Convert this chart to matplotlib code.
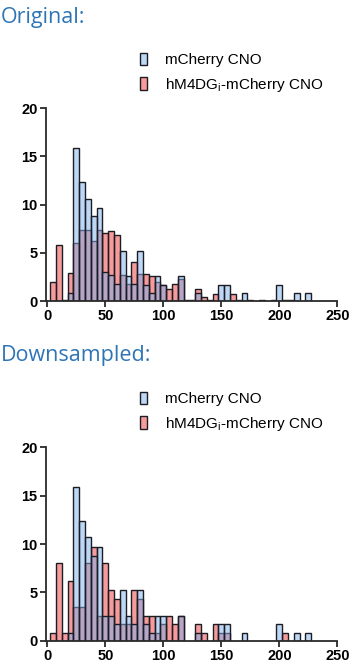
"""
plot.py
-------
Overlaid histograms (mCherry CNO vs hM4DGi-mCherry CNO), original and
downsampled, stacked in one tall figure.
"""

import matplotlib
matplotlib.use("Agg")
import matplotlib.pyplot as plt
from matplotlib.patches import Patch
import numpy as np

plt.rcParams["font.family"] = ["Liberation Sans", "DejaVu Sans"]
plt.rcParams["mathtext.default"] = "regular"

# bin centres (width 5)
bin_centers = np.arange(5, 230, 5)

# --- Original ---
orig_mcherry = [0, 0, 0, 0.8, 15.9, 12.3, 10.6, 8.8, 9.6, 3.0,
                2.65, 1.8, 5.2, 2.6, 1.8, 5.2, 1.7, 0.8, 2.6, 1.7,
                0, 0, 2.6, 0, 0, 0.8, 0, 0, 0, 1.7,
                1.7, 0, 0, 0.85, 0, 0, 0, 0, 0, 1.7,
                0, 0, 0.85, 0, 0.85]
orig_hm4d = [2.0, 5.8, 0.15, 2.85, 6.0, 7.4, 7.4, 6.2, 7.4, 7.0,
             7.3, 6.8, 2.65, 1.8, 4.0, 2.8, 2.8, 2.55, 2.0, 1.7,
             1.2, 1.8, 2.3, 0.15, 0.15, 1.2, 0.4, 0.15, 0.7, 0,
             0, 0.7, 0.15, 0, 0.15, 0, 0.15, 0, 0.15, 0,
             0.15, 0.15, 0, 0, 0]

# --- Downsampled ---
down_mcherry = [0, 0, 0, 0.83, 15.9, 12.4, 10.7, 8.8, 9.7, 2.6,
                2.55, 1.7, 5.2, 2.55, 1.7, 5.2, 1.7, 0.83, 2.55, 2.55,
                0, 0, 2.55, 0, 0, 0.83, 0, 0, 0, 1.7,
                1.7, 0, 0, 0.83, 0, 0, 0, 0, 0, 1.7,
                0, 0, 0.83, 0, 0.83]
down_hm4d = [0.83, 8.0, 0.83, 6.2, 3.45, 3.45, 8.0, 9.7, 2.55, 8.0,
             5.2, 4.3, 1.7, 1.7, 5.2, 4.3, 2.55, 2.55, 0.83, 1.7,
             2.55, 1.7, 2.55, 0, 0, 1.7, 0.83, 0, 1.7, 0.83,
             0.83, 0, 0, 0, 0, 0, 0, 0, 0, 0,
             0.83, 0, 0, 0, 0]

group_labels = ["mCherry CNO", "hM4DG$_{i}$-mCherry CNO"]
x_ticks = [0, 50, 100, 150, 200, 250]
y_ticks = [0, 5, 10, 15, 20]

BLUE = (0.49, 0.69, 0.92, 0.5)
RED = (0.93, 0.22, 0.22, 0.5)
EDGE = "#1c1c24"
HEAD = "#2e75b6"

W, H = 353, 672
fig = plt.figure(figsize=(W / 100, H / 100), dpi=100)


def px_axes(left, top, right, bottom):
    return fig.add_axes([left / W, 1 - bottom / H, (right - left) / W, (bottom - top) / H])


def draw_panel(ax, mcherry, hm4d):
    for vals, col in ((hm4d, RED), (mcherry, BLUE)):
        vals = np.asarray(vals, dtype=float)
        keep = vals > 0
        ax.bar(bin_centers[keep], vals[keep], width=5, color=col,
               edgecolor=EDGE, linewidth=1.0)
    ax.set_xlim(-1.2, 250)
    ax.set_ylim(0, 20)
    ax.set_xticks(x_ticks)
    ax.set_yticks(y_ticks)
    for s in ("top", "right"):
        ax.spines[s].set_visible(False)
    for s in ("left", "bottom"):
        ax.spines[s].set_linewidth(1.3)
        ax.spines[s].set_color("#2a2a2a")
    ax.tick_params(direction="out", length=4, width=1.3, color="#2a2a2a",
                   labelsize=10.5, pad=2)
    for lbl in ax.get_xticklabels() + ax.get_yticklabels():
        lbl.set_fontweight("bold")


def draw_legend(y_top):
    handles = [Patch(facecolor=BLUE, edgecolor=EDGE, linewidth=1.0),
               Patch(facecolor=RED, edgecolor=EDGE, linewidth=1.0)]
    fig.legend(handles, group_labels, loc="upper left",
               bbox_to_anchor=(132 / W, 1 - y_top / H), frameon=False,
               fontsize=11, handlelength=0.45, handleheight=0.9,
               handletextpad=1.2, labelspacing=0.55, borderpad=0)


ax1 = px_axes(46, 108, 337.3, 301)
draw_panel(ax1, orig_mcherry, orig_hm4d)
draw_legend(45)
fig.text(1 / W, 1 - 17 / H, "Original:", color=HEAD, fontsize=15.5,
         family=["Open Sans", "DejaVu Sans"], va="center", ha="left")

ax2 = px_axes(46, 447.3, 337.3, 640.7)
draw_panel(ax2, down_mcherry, down_hm4d)
draw_legend(384)
fig.text(1 / W, 1 - 355 / H, "Downsampled:", color=HEAD, fontsize=15.5,
         family=["Open Sans", "DejaVu Sans"], va="center", ha="left")

fig.savefig("out.png", dpi=100)
